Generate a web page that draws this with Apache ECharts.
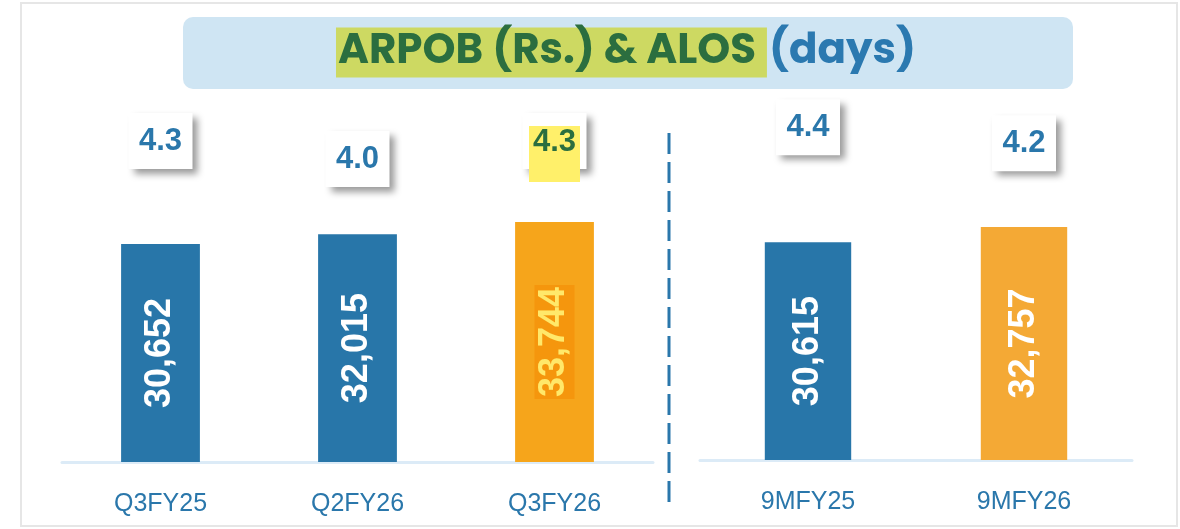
<!DOCTYPE html>
<html>
<head>
<meta charset="utf-8">
<script src="https://cdn.jsdelivr.net/npm/echarts@6/dist/echarts.min.js"></script>
<style>
  html, body { margin: 0; padding: 0; background: #fff; }
  #chart { width: 1180px; height: 529px; }
</style>
</head>
<body>
<div id="chart"></div>
<script>
// quarter panel
const quarterCats = ['Q3FY25', 'Q2FY26', 'Q3FY26'];
const quarterArpob = [30652, 32015, 33744];
const quarterAlos = [4.3, 4.0, 4.3];
// nine month panel
const nineMCats = ['9MFY25', '9MFY26'];
const nineMArpob = [30615, 32757];
const nineMAlos = [4.4, 4.2];

const BLUE = '#2876a9',
    ORANGE = '#f6a51b',
    ORANGE2 = '#f4a935',
    TXT = '#2a77ab',
    GREEN = '#2b6e3f';
const HL = 2; // highlighted quarter (Q3FY26)

const chart = echarts.init(document.getElementById('chart'));

const fmtNum = v => Number(v).toLocaleString('en-US');

const numFont = {
    fontFamily: 'Liberation Sans, Arial, sans-serif',
    fontWeight: 'bold',
    fontSize: 31
};

//白色数值框 (symbol = box)
const boxSeries = (xi, yi, data) => ({
    type: 'scatter', xAxisIndex: xi, yAxisIndex: yi,
    symbol: 'rect',
    symbolSize: [64, 56],
    itemStyle: {
        color: '#ffffff',
        opacity: 1,
        shadowColor: 'rgba(0,0,0,0.4)',
        shadowBlur: 7,
        shadowOffsetX: 5,
        shadowOffsetY: 5
    },
    label: Object.assign({
        show: true,
        position: 'inside',
        formatter: p => Number(p.value).toFixed(1),
        color: TXT
    }, numFont),
    emphasis: { disabled: true },
    data: data,
    z: 5
});

const barLabel = {
    show: true,
    position: 'inside',
    rotate: 90,
    formatter: p => fmtNum(p.value),
    color: '#fff',
    fontFamily: 'Liberation Sans, Arial, sans-serif',
    fontWeight: 'bold',
    fontSize: 36
};

const xAxisBase = {
    type: 'category',
    axisTick: { show: false },
    axisLine: { lineStyle: { color: '#dcebf7', width: 3 } },
    axisLabel: {
        color: TXT,
        fontFamily: 'Liberation Sans, Arial, sans-serif',
        fontSize: 25,
        margin: 30
    }
};

const hiddenY = (idx, min, max) => ({
    type: 'value', gridIndex: idx, min: min, max: max,
    show: false, splitLine: { show: false }
});

const titleFont = {
    fontFamily: 'Poppins, "Open Sans", sans-serif',
    fontWeight: 'bold',
    fontSize: 42,
    lineHeight: 43,
    padding: [4, 2, 4, 2]
};

const option = {
    animation: false,
    backgroundColor: '#fff',
    title: {
        left: 627,
        top: 31,
        textAlign: 'center',
        padding: 0,
        text: '{a|ARPOB (Rs.) & ALOS }{b|(days)}',
        textStyle: {
            rich: {
                a: Object.assign({ color: GREEN, backgroundColor: '#cdd962' }, titleFont),
                b: Object.assign({ color: '#2b79b0' }, titleFont)
            }
        }
    },
    graphic: [
        {
            type: 'rect', z: -10, silent: true,
            shape: { x: 21, y: 3, width: 1156, height: 523 },
            style: { fill: 'none', stroke: '#e6e6e6', lineWidth: 2 }
        },
        {
            type: 'rect', z: -5, silent: true,
            shape: { x: 183, y: 17, width: 890, height: 72, r: 10 },
            style: { fill: '#cfe5f3' }
        },
        {
            type: 'line', silent: true,
            shape: { x1: 669, y1: 133, x2: 669, y2: 507 },
            style: { stroke: TXT, lineWidth: 3, lineDash: [21, 8] }
        }
    ],
    grid: [
        { left: 62, right: 527, top: 102, bottom: 67 },
        { left: 700, right: 48, top: 100, bottom: 69 }
    ],
    xAxis: [
        Object.assign({ gridIndex: 0, data: quarterCats }, xAxisBase),
        Object.assign({ gridIndex: 1, data: nineMCats }, xAxisBase)
    ],
    yAxis: [
        hiddenY(0, 0, 50600),
        hiddenY(0, -1.05, 4.95),
        hiddenY(1, 0, 50600),
        hiddenY(1, 0.24, 4.74)
    ],
    series: [
        {
            type: 'bar', xAxisIndex: 0, yAxisIndex: 0, barWidth: '40%',
            data: quarterArpob.map((v, i) => i === HL ? {
                value: v,
                itemStyle: { color: ORANGE },
                label: { color: '#ffe86a', backgroundColor: '#f5960d', padding: [2, 2] }
            } : v),
            itemStyle: { color: BLUE },
            label: barLabel
        },
        {
            type: 'bar', xAxisIndex: 1, yAxisIndex: 2, barWidth: '40%',
            data: nineMArpob,
            itemStyle: { color: p => p.dataIndex === 1 ? ORANGE2 : BLUE },
            label: barLabel
        },
        boxSeries(0, 1, quarterAlos.map((v, i) => i === HL ? { value: v, label: { show: false } } : v)),
        {
            // 高亮黄色底
            type: 'scatter', xAxisIndex: 0, yAxisIndex: 1,
            symbol: 'rect',
            symbolSize: [51, 56],
            symbolOffset: [0, 13],
            itemStyle: { color: '#fff06a', opacity: 1 },
            label: Object.assign({
                show: true,
                position: 'inside',
                offset: [0, -12],
                formatter: p => Number(p.value).toFixed(1),
                color: GREEN
            }, numFont),
            emphasis: { disabled: true },
            data: quarterAlos.map((v, i) => i === HL ? v : '-'),
            z: 6
        },
        boxSeries(1, 3, nineMAlos)
    ]
};

chart.setOption(option);
</script>
</body>
</html>
